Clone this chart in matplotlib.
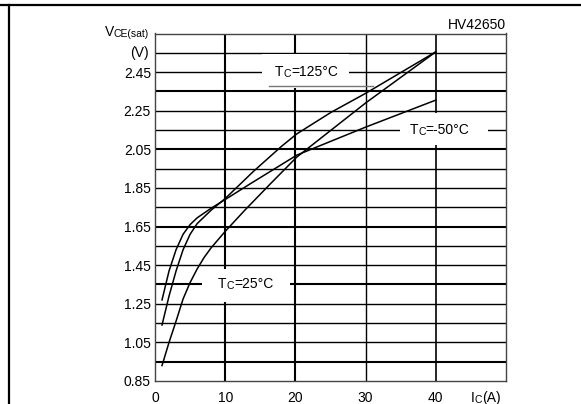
import numpy as np
import matplotlib
matplotlib.use("Agg")
import matplotlib.pyplot as plt
from matplotlib.patches import Rectangle
from matplotlib.lines import Line2D

plt.rcParams['font.family'] = ['Liberation Sans', 'DejaVu Sans']

# curve data (Ic in A, Vce(sat) in V)
ic_m50 = [1, 2, 3, 4, 5, 6, 8, 10, 13.5, 20.2, 30, 40]
vce_m50 = [1.27, 1.42, 1.53, 1.61, 1.66, 1.695, 1.745, 1.79, 1.87, 2.02, 2.165, 2.305]

ic_25 = [1, 2, 3, 4, 5, 6, 7, 8, 10, 12, 14, 16, 18, 20.2, 25, 30, 40]
vce_25 = [1.14, 1.29, 1.42, 1.53, 1.61, 1.665, 1.70, 1.735, 1.795, 1.865, 1.935, 2.00, 2.065,
          2.13, 2.24, 2.34, 2.555]

ic_125 = [1, 2, 3, 4, 5, 6, 7, 8, 10, 12.8, 16.4, 20.2, 30, 40]
vce_125 = [0.93, 1.05, 1.16, 1.275, 1.36, 1.43, 1.49, 1.54, 1.625, 1.735, 1.87, 2.01, 2.29, 2.555]

x_ticks = [0, 10, 20, 30, 40]
y_ticks = [0.85, 1.05, 1.25, 1.45, 1.65, 1.85, 2.05, 2.25, 2.45]
y_labels = ['0.85', '1.05', '1.25', '1.45', '1.65', '1.85', '2.05', '2.25', '2.45']


def mixed_text(ax, x, y, parts):
    # pieces of (text, size) laid out left to right, bottoms lined up with the first piece
    first = ax.text(x, y, parts[0][0], fontsize=parts[0][1], ha='left', va='center', zorder=5)
    prev = first
    for s, size in parts[1:]:
        prev = ax.annotate(s, xy=(1, 0), xycoords=(prev, first), fontsize=size,
                           ha='left', va='bottom', zorder=5)
    return first


fig = plt.figure(figsize=(5.81, 4.04), dpi=100)
ax = fig.add_axes([155 / 581, 1 - 381 / 404, 351 / 581, 347.5 / 404])
ax.set_xlim(0, 50)
ax.set_ylim(0.85, 2.65)

# grid
thick_y = [0.95, 1.35, 1.65, 2.05, 2.35]
for gy in np.round(np.arange(0.95, 2.6, 0.1), 2):
    ax.axhline(gy, color='black', lw=1.5 if gy in thick_y else 1.0, zorder=1)
for gx, w in zip([10, 20, 30, 40], [1.5, 1.5, 1.0, 1.2]):
    ax.axvline(gx, color='black', lw=w, zorder=1)

# white gaps behind the labels
for (x0, y0, x1, y1) in [(15.2, 2.37, 27.7, 2.545), (34.85, 2.07, 47.4, 2.24), (6.7, 1.26, 19.2, 1.43)]:
    ax.add_patch(Rectangle((x0, y0), x1 - x0, y1 - y0, facecolor='white', edgecolor='none', zorder=2))

ax.plot(ic_m50, vce_m50, color='black', lw=1.1, zorder=3)
ax.plot(ic_25, vce_25, color='black', lw=1.1, zorder=3)
ax.plot(ic_125, vce_125, color='black', lw=1.1, zorder=3)

mixed_text(ax, 17.1, 2.45, [('T', 10), ('C', 7.5), ('=125°C', 10)])
mixed_text(ax, 36.3, 2.15, [('T', 10), ('C', 7.5), ('=-50°C', 10)])
mixed_text(ax, 9.0, 1.35, [('T', 10), ('C', 7.5), ('=25°C', 10)])
ax.plot([16.2, 31.0], [2.38, 2.38], color='#777777', lw=1.0, zorder=3)

for sp in ax.spines.values():
    sp.set_color('#444444')
    sp.set_linewidth(1.0)

ax.set_xticks(x_ticks)
ax.set_xticklabels([str(v) for v in x_ticks])
ax.set_yticks(y_ticks)
ax.set_yticklabels(y_labels)
ax.tick_params(axis='x', length=0, pad=7, labelsize=10)
ax.tick_params(axis='y', length=0, pad=2.9, labelsize=10)

# axis titles
small = ax.annotate('CE(sat)', xy=(0, 2.65), xycoords=('axes fraction', 'data'), xytext=(-4.3, -2.6),
                    textcoords='offset points', ha='right', va='baseline', fontsize=7.5)
ax.annotate('V', xy=(0, 0), xycoords=small, ha='right', va='bottom', fontsize=10)
ax.annotate('(V)', xy=(0, 2.55), xycoords=('axes fraction', 'data'), xytext=(-4.3, 0),
            textcoords='offset points', ha='right', va='center', fontsize=10)

i_txt = ax.annotate('I', xy=(45, 0), xycoords=('data', 'axes fraction'), xytext=(0, -7),
                    textcoords='offset points', ha='left', va='top', fontsize=10)
c_txt = ax.annotate('C', xy=(1, 0), xycoords=i_txt, ha='left', va='bottom', fontsize=7.5)
ax.annotate('(A)', xy=(1, 0), xycoords=(c_txt, i_txt), ha='left', va='bottom', fontsize=10)

ax.text(1.0, 1.004, 'HV42650', transform=ax.transAxes, ha='right', va='bottom', fontsize=10)

# outer frame of the datasheet page
fig.add_artist(Line2D([0, 1], [1 - 5 / 404, 1 - 5 / 404], color='black', lw=1.6))
fig.add_artist(Line2D([9.3 / 581, 9.3 / 581], [0, 1 - 5 / 404], color='black', lw=1.6))

fig.savefig('out.png', dpi=100)
